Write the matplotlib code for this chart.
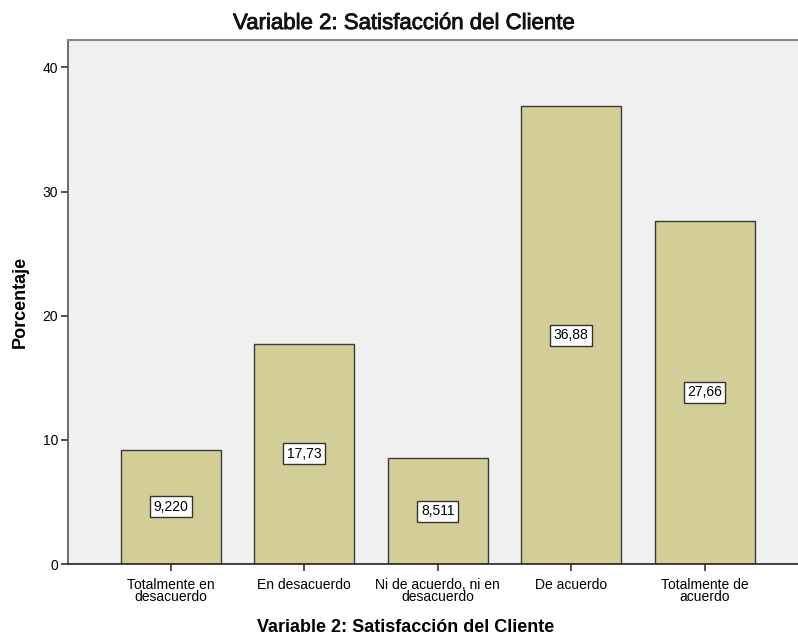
import matplotlib
matplotlib.use("Agg")
import matplotlib.pyplot as plt
import matplotlib.patheffects as pe

plt.rcParams['font.family'] = ['Liberation Sans', 'DejaVu Sans']

categories = ["Totalmente en\ndesacuerdo", "En desacuerdo", "Ni de acuerdo, ni en\ndesacuerdo",
              "De acuerdo", "Totalmente de\nacuerdo"]
percentages = [9.220, 17.73, 8.511, 36.88, 27.66]
value_labels = ["9,220", "17,73", "8,511", "36,88", "27,66"]
y_ticks = [0, 10, 20, 30, 40]

fig = plt.figure(figsize=(7.98, 6.36), dpi=100)
ax = fig.add_axes([0.0852, 0.1132, 0.9148, 0.8238])
ax.set_facecolor('#f0f0f0')

x = list(range(len(categories)))
ax.bar(x, percentages, width=0.75, color='#d3ce97', edgecolor='#3a3a3a', linewidth=1.0, zorder=2)

for xi, v, lab in zip(x, percentages, value_labels):
    ax.text(xi, v / 2, lab, ha='center', va='center', fontsize=10, color='black', zorder=3,
            bbox=dict(boxstyle='square,pad=0.25', facecolor='white', edgecolor='#333333', linewidth=1.0))

ax.set_xlim(-0.77, 4.70)
ax.set_ylim(0, 42.2)
ax.set_yticks(y_ticks)
ax.set_yticklabels([str(t) for t in y_ticks], fontsize=10)
ax.set_xticks(x)
ax.set_xticklabels(categories, fontsize=10, linespacing=0.85)

ax.tick_params(axis='y', direction='out', length=5, width=1.2, color='#333333', pad=2)
ax.tick_params(axis='x', direction='out', length=5, width=1.2, color='#333333', pad=5)
ax.spines['left'].set_color('#555555')
ax.spines['left'].set_linewidth(1.2)
ax.spines['top'].set_color('#888888')
ax.spines['top'].set_linewidth(1.5)
ax.spines['bottom'].set_color('#222222')
ax.spines['bottom'].set_linewidth(1.2)
ax.spines['right'].set_visible(False)

fig.text(0.507, 0.963, "Variable 2: Satisfacción del Cliente", fontsize=16, ha='center', va='center',
         color='#111111', path_effects=[pe.withStroke(linewidth=0.6, foreground='#111111')])
fig.text(0.508, 0.014, "Variable 2: Satisfacción del Cliente", fontsize=13, fontweight='bold',
         ha='center', va='center')
ax.set_ylabel("Porcentaje", fontsize=13, fontweight='bold', labelpad=10)

fig.savefig("out.png", dpi=100)
